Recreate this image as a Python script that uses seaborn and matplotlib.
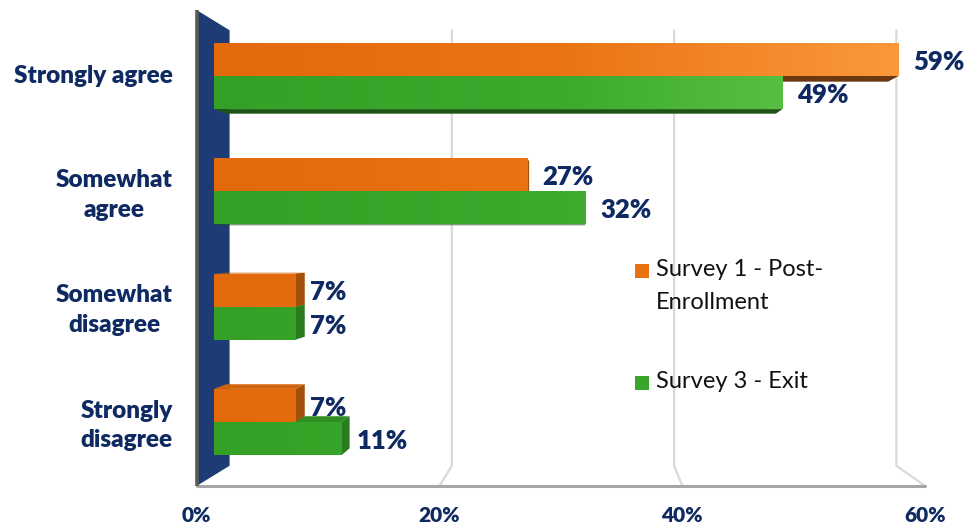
import numpy as np
import pandas as pd
import matplotlib
matplotlib.use("Agg")
import matplotlib.pyplot as plt
import seaborn as sns
from matplotlib.patches import Polygon, Rectangle
from matplotlib.colors import LinearSegmentedColormap

# ---- data -------------------------------------------------------------
categories = ["Strongly agree", "Somewhat agree", "Somewhat disagree", "Strongly disagree"]
category_labels = ["Strongly agree", "Somewhat\nagree", "Somewhat\ndisagree", "Strongly\ndisagree"]
series = ["Survey 1 - Post-Enrollment", "Survey 3 - Exit"]
legend_labels = ["Survey 1 - Post-\nEnrollment", "Survey 3 - Exit"]
survey1_post_enrollment = [59, 27, 7, 7]
survey3_exit = [49, 32, 7, 11]
x_ticks = [0, 20, 40, 60]
x_tick_labels = ["0%", "20%", "40%", "60%"]

# ---- style ------------------------------------------------------------
NAVY = "#0F2A62"
WALL = "#1F3B75"
ORANGE = "#E8720F"
GREEN = "#39A52B"
ORANGE_RAMP = ["#E2690C", "#EA7414", "#FB9A3E"]
GREEN_RAMP = ["#34A126", "#3CAA2D", "#66CC50"]
ORANGE_FACES = {"side": "#A3500B", "top": "#CF640C", "bottom": "#6B3810"}
GREEN_FACES = {"side": "#2A7C1F", "top": "#2E8E22", "bottom": "#1E5517"}
LABEL_WEIGHT = "heavy"

sns.set_theme(style="white")
plt.rcParams["font.family"] = ["Lato", "DejaVu Sans"]

W, H = 968, 526
fig = plt.figure(figsize=(W / 100, H / 100), dpi=100)
ax = fig.add_axes([0, 0, 1, 1])

# value axis: 0 % sits at x=214 px, 11.6 px per percent; rows 115.3 px apart
PX0, PXU = 214.0, 11.6
PY0, PYU = 76.0, 115.33
XLIM = (-PX0 / PXU, (W - PX0) / PXU)
YLIM = ((H - PY0) / PYU, -PY0 / PYU)

df = pd.DataFrame({
    "category": categories * 2,
    "survey": [series[0]] * 4 + [series[1]] * 4,
    "value": survey1_post_enrollment + survey3_exit,
})

sns.barplot(data=df, x="value", y="category", hue="survey", order=categories,
            hue_order=series, palette=[ORANGE, GREEN], width=0.574,
            saturation=1, legend=False, orient="h", linewidth=0, ax=ax, zorder=3)

# ---- perspective helpers (vanishing point of the 3-D box) --------------
VX, VY = (585 - PX0) / PXU, (248 - PY0) / PYU
K_BAR = 0.967      # depth of the bar bodies
S_FRONT = 1.047    # front edge of floor
S_BACK = 0.958     # back wall
ROOM_TOP, ROOM_FLOOR = (20.7 - PY0) / PYU, (475.3 - PY0) / PYU


def proj(x, y, s):
    return (VX + s * (x - VX), VY + s * (y - VY))


# side wall
wall = Polygon([proj(0, ROOM_TOP, S_FRONT), proj(0, ROOM_TOP, S_BACK),
                proj(0, ROOM_FLOOR, S_BACK), proj(0, ROOM_FLOOR, S_FRONT)],
               closed=True, facecolor=WALL, edgecolor="none", zorder=2)
ax.add_patch(wall)

# gridlines on back wall + floor
for v in x_ticks[1:]:
    pts = [proj(v, ROOM_TOP, S_BACK), proj(v, ROOM_FLOOR, S_BACK), proj(v, ROOM_FLOOR, S_FRONT)]
    ax.plot([p[0] for p in pts], [p[1] for p in pts], color="#D9D9D9", lw=1.6,
            zorder=1, solid_joinstyle="miter")

# floor front edge and vertical axis line
a, b = proj(0, ROOM_FLOOR, S_FRONT), proj(x_ticks[-1], ROOM_FLOOR, S_FRONT)
ax.plot([a[0], b[0]], [a[1], b[1]], color="#A6A6A6", lw=2.2, zorder=2.2)
c = proj(0, ROOM_TOP, S_FRONT)
ax.plot([c[0], a[0]], [c[1], a[1]], color="#5A5A5A", lw=2.6, zorder=2.3,
        solid_capstyle="butt")

# tick labels along the front floor edge
for v, lab in zip(x_ticks, x_tick_labels):
    px = proj(v, ROOM_FLOOR, S_FRONT)[0]
    ax.text(px, (515 - PY0) / PYU, lab, ha="center", va="center",
            fontsize=15, fontweight=LABEL_WEIGHT, color=NAVY)

# ---- bar bodies ---------------------------------------------------------
for cont, values, faces, ramp in zip(ax.containers,
                                     [survey1_post_enrollment, survey3_exit],
                                     [ORANGE_FACES, GREEN_FACES],
                                     [ORANGE_RAMP, GREEN_RAMP]):
    cmap = LinearSegmentedColormap.from_list("ramp", list(zip([0, 0.5, 1], ramp)))
    for bar, val in zip(cont, values):
        x0, y0 = bar.get_x(), bar.get_y()
        x1, y1 = x0 + bar.get_width(), y0 + bar.get_height()
        F = lambda x, y: proj(x, y, 1.0)
        B = lambda x, y: proj(x, y, K_BAR)
        if y0 > VY:   # top face visible
            ax.add_patch(Polygon([F(x0, y0), F(x1, y0), B(x1, y0), B(x0, y0)],
                                 facecolor=faces["top"], edgecolor="none", zorder=2.6))
        if y1 < VY:   # underside visible
            ax.add_patch(Polygon([F(x0, y1), F(x1, y1), B(x1, y1), B(x0, y1)],
                                 facecolor=faces["bottom"], edgecolor="none", zorder=2.6))
        if x1 < VX:   # right end visible
            ax.add_patch(Polygon([F(x1, y0), F(x1, y1), B(x1, y1), B(x1, y0)],
                                 facecolor=faces["side"], edgecolor="none", zorder=2.7))
        # horizontal shading across the value range
        grad = np.linspace(0, 1, 256).reshape(1, -1)
        im = ax.imshow(grad, extent=[0, x_ticks[-1], y1, y0], cmap=cmap,
                       aspect="auto", zorder=3.1, interpolation="bilinear")
        im.set_clip_path(bar)
        # value label
        ax.text(x1 + 1.3, (y0 + y1) / 2 + 0.02, f"{val}%", ha="left", va="center",
                fontsize=18.5, fontweight=LABEL_WEIGHT, color=NAVY, zorder=5)

# category labels (two-line labels sit a touch lower)
for i, lab in enumerate(category_labels):
    dy = 0.03 if "\n" in lab else 0.0
    ax.text((173 - PX0) / PXU, i + dy, lab, ha="right", va="center",
            multialignment="center", fontsize=17.5, fontweight=LABEL_WEIGHT,
            color=NAVY, linespacing=1.42)

# legend
for (ly, col), lab in zip([(264, ORANGE), (376, GREEN)], legend_labels):
    fig.patches.append(Rectangle((635 / W, 1 - (ly + 14) / H), 14 / W, 14 / H,
                                 transform=fig.transFigure, facecolor=col,
                                 edgecolor="none", zorder=5))
    fig.text(656 / W, 1 - (ly - 5) / H, lab, ha="left", va="top", fontsize=17,
             color="#111111", linespacing=1.72)

ax.set_xlim(*XLIM)
ax.set_ylim(*YLIM)
ax.axis("off")
fig.savefig("out.png", dpi=100, facecolor="white")
